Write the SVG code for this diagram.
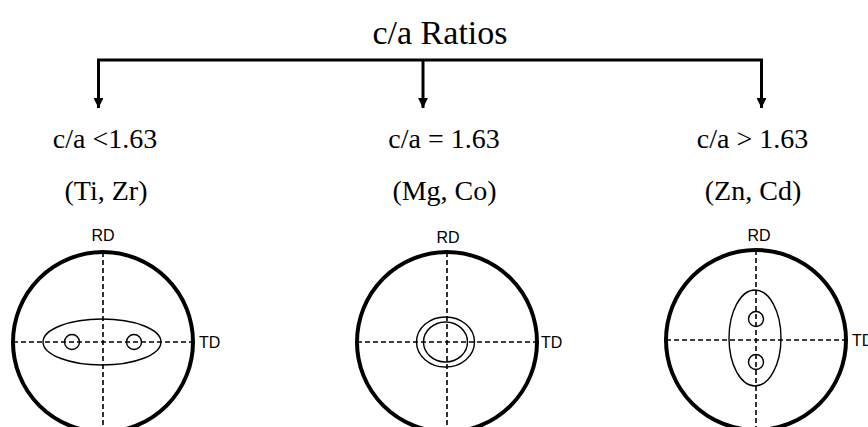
<svg xmlns="http://www.w3.org/2000/svg" width="868" height="427" viewBox="0 0 868 427">
<style>
.ser{font-family:"Liberation Serif","Times New Roman",serif;fill:#000;text-anchor:middle}
.t{font-size:34px}
.l{font-size:28px}
.ax{font-family:"Liberation Sans",Arial,sans-serif;font-size:16px;fill:#000}
.rim{fill:none;stroke:#000;stroke-width:4}
.dash{fill:none;stroke:#000;stroke-width:1.6;stroke-dasharray:5 3}
.thin{fill:none;stroke:#000;stroke-width:1.4}
.conn{fill:none;stroke:#000;stroke-width:3}
</style>
<defs>
<marker id="ah" viewBox="0 0 10 10" refX="10" refY="5" markerWidth="3.3" markerHeight="3.3" orient="auto" markerUnits="strokeWidth">
<path d="M0,0 L10,5 L0,10 z" fill="#000"/>
</marker>
</defs>
<g id="title"><text class="ser t" x="440" y="44">c/a Ratios</text></g>
<g id="connectors">
<path class="conn" d="M97,60 H763"/>
<path class="conn" d="M98.5,60 V108" marker-end="url(#ah)"/>
<path class="conn" d="M423,60 V108" marker-end="url(#ah)"/>
<path class="conn" d="M761.5,60 V108" marker-end="url(#ah)"/>
</g>
<g id="node-low">
<text class="ser l" x="105" y="148">c/a &lt;1.63</text>
<text class="ser l" x="106" y="200">(Ti, Zr)</text>
<line class="dash" x1="13" y1="342" x2="193" y2="342"/>
<line class="dash" x1="103" y1="252" x2="103" y2="427"/>
<circle class="rim" cx="103" cy="342" r="90"/>
<ellipse class="thin" cx="102" cy="342" rx="59" ry="23"/>
<circle class="thin" cx="72" cy="342" r="7.5"/>
<circle class="thin" cx="134" cy="342" r="7.5"/>
<text class="ax" x="103" y="241" text-anchor="middle">RD</text>
<text class="ax" x="199" y="348">TD</text>
</g>
<g id="node-equal">
<text class="ser l" x="444" y="148">c/a = 1.63</text>
<text class="ser l" x="444.5" y="200">(Mg, Co)</text>
<line class="dash" x1="357" y1="342" x2="537" y2="342"/>
<line class="dash" x1="447" y1="252" x2="447" y2="427"/>
<circle class="rim" cx="447" cy="342" r="90"/>
<ellipse class="thin" cx="445.5" cy="342" rx="29" ry="25"/>
<ellipse class="thin" cx="445.5" cy="342" rx="22" ry="20"/>
<text class="ax" x="448" y="243" text-anchor="middle">RD</text>
<text class="ax" x="541" y="348">TD</text>
</g>
<g id="node-high">
<text class="ser l" x="752.5" y="148">c/a &gt; 1.63</text>
<text class="ser l" x="753" y="200">(Zn, Cd)</text>
<line class="dash" x1="666" y1="340" x2="846" y2="340"/>
<line class="dash" x1="756" y1="250" x2="756" y2="427"/>
<circle class="rim" cx="756" cy="340" r="90"/>
<ellipse class="thin" cx="755" cy="338" rx="26" ry="48"/>
<circle class="thin" cx="756" cy="319" r="7.5"/>
<circle class="thin" cx="756" cy="362" r="7.5"/>
<text class="ax" x="759" y="241" text-anchor="middle">RD</text>
<text class="ax" x="852" y="346">TD</text>
</g>
</svg>
